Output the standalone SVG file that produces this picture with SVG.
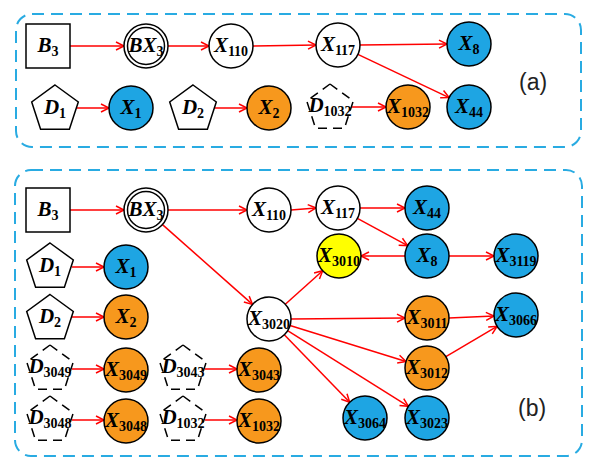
<svg xmlns="http://www.w3.org/2000/svg" xmlns:xlink="http://www.w3.org/1999/xlink" width="592" height="467" viewBox="0 0 592 467">
<style>
.panel{fill:none;stroke:#29abe2;stroke-width:2;stroke-dasharray:12 7}
.n{stroke:#000;stroke-width:1.5}
.w{fill:#fff}
.b{fill:#1ea5e3}
.o{fill:#f7981d}
.y{fill:#ffff00}
.sq{fill:#fff;stroke:#000;stroke-width:1.5}
.pent{fill:#fff;stroke:#000;stroke-width:1.5}
.dpent{fill:#fff;stroke:#000;stroke-width:1.5;stroke-dasharray:9 6}
.t{font-family:"Liberation Serif",serif;font-weight:bold;text-anchor:middle;fill:#000}
.m{font-style:italic;font-size:21px}
.s{font-size:14px}
.lab{font-family:"Liberation Sans",Arial,sans-serif;font-size:23px;fill:#222}
.e{fill:none;stroke:#f00;stroke-width:1.5;marker-end:url(#arr)}
</style>
<defs>
<marker id="arr" markerUnits="userSpaceOnUse" markerWidth="12" markerHeight="12" refX="9" refY="5" orient="auto" viewBox="0 0 12 10">
<path d="M1,1 L9,5 L1,9" fill="none" stroke="#f00" stroke-width="1.5"/>
</marker>
<polygon id="pent" points="0,-24.5 23.3,-7.57 14.4,19.82 -14.4,19.82 -23.3,-7.57"/>
</defs>

<rect class="panel" x="16" y="14" width="565" height="133" rx="16"/>
<rect class="panel" x="15" y="170" width="567" height="286" rx="16"/>
<text class="lab" x="519" y="90">(a)</text>
<text class="lab" x="518" y="416">(b)</text>

<g id="connectors">
<line class="e" x1="70" y1="46" x2="124" y2="46"/>
<line class="e" x1="168" y1="46" x2="209" y2="46"/>
<line class="e" x1="253" y1="46" x2="316" y2="45"/>
<line class="e" x1="360" y1="45" x2="447" y2="44"/>
<line class="e" x1="357.9" y1="54.4" x2="449.1" y2="97.6"/>
<line class="e" x1="77" y1="108" x2="109" y2="108"/>
<line class="e" x1="215" y1="108" x2="247" y2="108"/>
<line class="e" x1="352" y1="107" x2="386" y2="107"/>

<line class="e" x1="70" y1="210" x2="124" y2="210"/>
<line class="e" x1="168" y1="210" x2="247" y2="210"/>
<line class="e" x1="291" y1="210" x2="316" y2="208"/>
<line class="e" x1="360" y1="208" x2="405" y2="208"/>
<line class="e" x1="357.4" y1="218.4" x2="407.6" y2="245.6"/>
<line class="e" x1="405" y1="256" x2="361" y2="256"/>
<line class="e" x1="449" y1="256" x2="494" y2="256"/>
<line class="e" x1="162.5" y1="224.6" x2="252.5" y2="304.4"/>
<line class="e" x1="285.3" y1="304.3" x2="322.7" y2="270.7"/>
<line class="e" x1="291" y1="319" x2="405" y2="318"/>
<line class="e" x1="290" y1="325.5" x2="406" y2="361.5"/>
<line class="e" x1="284.3" y1="334.8" x2="349.7" y2="402.2"/>
<line class="e" x1="287.6" y1="330.7" x2="408.4" y2="406.3"/>
<line class="e" x1="449" y1="318" x2="494" y2="316"/>
<line class="e" x1="445.9" y1="356.7" x2="497.1" y2="326.3"/>
<line class="e" x1="72" y1="267" x2="104" y2="267"/>
<line class="e" x1="72" y1="317" x2="104" y2="317"/>
<line class="e" x1="72" y1="369" x2="104" y2="369"/>
<line class="e" x1="205" y1="369" x2="237" y2="369"/>
<line class="e" x1="72" y1="420" x2="104" y2="420"/>
<line class="e" x1="205" y1="420" x2="237" y2="420"/>
</g>

<!-- panel a -->
<g id="a_B3"><rect class="sq" x="26" y="24" width="44" height="44"/><text class="t" x="48" y="52"><tspan class="m">B</tspan><tspan class="s" dy="4">3</tspan></text></g>
<g id="a_BX3"><circle class="n w" cx="146" cy="46" r="22"/><circle class="n" fill="none" cx="146" cy="46" r="18.5"/><text class="t" x="146" y="52"><tspan class="m">BX</tspan><tspan class="s" dy="4">3</tspan></text></g>
<g id="a_X110"><circle class="n w" cx="231" cy="46" r="22"/><text class="t" x="231" y="52"><tspan class="m">X</tspan><tspan class="s" dy="4">110</tspan></text></g>
<g id="a_X117"><circle class="n w" cx="338" cy="45" r="22"/><text class="t" x="338" y="51"><tspan class="m">X</tspan><tspan class="s" dy="4">117</tspan></text></g>
<g id="a_X8"><circle class="n b" cx="469" cy="44" r="22"/><text class="t" x="469" y="50"><tspan class="m">X</tspan><tspan class="s" dy="4">8</tspan></text></g>
<g id="a_X44"><circle class="n b" cx="469" cy="107" r="22"/><text class="t" x="469" y="113"><tspan class="m">X</tspan><tspan class="s" dy="4">44</tspan></text></g>
<g id="a_D1"><use xlink:href="#pent" class="pent" x="55" y="109.5"/><text class="t" x="55" y="114"><tspan class="m">D</tspan><tspan class="s" dy="4">1</tspan></text></g>
<g id="a_X1"><circle class="n b" cx="131" cy="108" r="22"/><text class="t" x="131" y="114"><tspan class="m">X</tspan><tspan class="s" dy="4">1</tspan></text></g>
<g id="a_D2"><use xlink:href="#pent" class="pent" x="193" y="109.5"/><text class="t" x="193" y="114"><tspan class="m">D</tspan><tspan class="s" dy="4">2</tspan></text></g>
<g id="a_X2"><circle class="n o" cx="269" cy="108" r="22"/><text class="t" x="269" y="114"><tspan class="m">X</tspan><tspan class="s" dy="4">2</tspan></text></g>
<g id="a_D1032"><use xlink:href="#pent" class="dpent" x="330" y="108.5"/><text class="t" x="330" y="112"><tspan class="m">D</tspan><tspan class="s" dy="4">1032</tspan></text></g>
<g id="a_X1032"><circle class="n o" cx="408" cy="107" r="22"/><text class="t" x="408" y="113"><tspan class="m">X</tspan><tspan class="s" dy="4">1032</tspan></text></g>

<!-- panel b -->
<g id="b_B3"><rect class="sq" x="26" y="188" width="44" height="44"/><text class="t" x="48" y="216"><tspan class="m">B</tspan><tspan class="s" dy="4">3</tspan></text></g>
<g id="b_BX3"><circle class="n w" cx="146" cy="210" r="22"/><circle class="n" fill="none" cx="146" cy="210" r="18.5"/><text class="t" x="146" y="216"><tspan class="m">BX</tspan><tspan class="s" dy="4">3</tspan></text></g>
<g id="b_X110"><circle class="n w" cx="269" cy="210" r="22"/><text class="t" x="269" y="216"><tspan class="m">X</tspan><tspan class="s" dy="4">110</tspan></text></g>
<g id="b_X117"><circle class="n w" cx="338" cy="208" r="22"/><text class="t" x="338" y="214"><tspan class="m">X</tspan><tspan class="s" dy="4">117</tspan></text></g>
<g id="b_X44"><circle class="n b" cx="427" cy="208" r="22"/><text class="t" x="427" y="214"><tspan class="m">X</tspan><tspan class="s" dy="4">44</tspan></text></g>
<g id="b_X8"><circle class="n b" cx="427" cy="256" r="22"/><text class="t" x="427" y="262"><tspan class="m">X</tspan><tspan class="s" dy="4">8</tspan></text></g>
<g id="b_X3010"><circle class="n y" cx="339" cy="256" r="22"/><text class="t" x="339" y="262"><tspan class="m">X</tspan><tspan class="s" dy="4">3010</tspan></text></g>
<g id="b_X3119"><circle class="n b" cx="516" cy="256" r="22"/><text class="t" x="516" y="262"><tspan class="m">X</tspan><tspan class="s" dy="4">3119</tspan></text></g>
<g id="b_D1"><use xlink:href="#pent" class="pent" x="50" y="267.5"/><text class="t" x="50" y="272"><tspan class="m">D</tspan><tspan class="s" dy="4">1</tspan></text></g>
<g id="b_X1"><circle class="n b" cx="126" cy="267" r="22"/><text class="t" x="126" y="273"><tspan class="m">X</tspan><tspan class="s" dy="4">1</tspan></text></g>
<g id="b_D2"><use xlink:href="#pent" class="pent" x="50" y="319"/><text class="t" x="50" y="323"><tspan class="m">D</tspan><tspan class="s" dy="4">2</tspan></text></g>
<g id="b_X2"><circle class="n o" cx="126" cy="317" r="22"/><text class="t" x="126" y="323"><tspan class="m">X</tspan><tspan class="s" dy="4">2</tspan></text></g>
<g id="b_X3020"><circle class="n w" cx="269" cy="319" r="22"/><text class="t" x="269" y="325"><tspan class="m">X</tspan><tspan class="s" dy="4">3020</tspan></text></g>
<g id="b_D3049"><use xlink:href="#pent" class="dpent" x="50" y="369.5"/><text class="t" x="50" y="373"><tspan class="m">D</tspan><tspan class="s" dy="4">3049</tspan></text></g>
<g id="b_X3049"><circle class="n o" cx="126" cy="370" r="22"/><text class="t" x="126" y="376"><tspan class="m">X</tspan><tspan class="s" dy="4">3049</tspan></text></g>
<g id="b_D3043"><use xlink:href="#pent" class="dpent" x="183" y="369.5"/><text class="t" x="183" y="373"><tspan class="m">D</tspan><tspan class="s" dy="4">3043</tspan></text></g>
<g id="b_X3043"><circle class="n o" cx="259" cy="370" r="22"/><text class="t" x="259" y="376"><tspan class="m">X</tspan><tspan class="s" dy="4">3043</tspan></text></g>
<g id="b_D3048"><use xlink:href="#pent" class="dpent" x="50" y="420.5"/><text class="t" x="50" y="424"><tspan class="m">D</tspan><tspan class="s" dy="4">3048</tspan></text></g>
<g id="b_X3048"><circle class="n o" cx="126" cy="421" r="22"/><text class="t" x="126" y="427"><tspan class="m">X</tspan><tspan class="s" dy="4">3048</tspan></text></g>
<g id="b_D1032"><use xlink:href="#pent" class="dpent" x="183" y="420.5"/><text class="t" x="183" y="424"><tspan class="m">D</tspan><tspan class="s" dy="4">1032</tspan></text></g>
<g id="b_X1032"><circle class="n o" cx="259" cy="421" r="22"/><text class="t" x="259" y="427"><tspan class="m">X</tspan><tspan class="s" dy="4">1032</tspan></text></g>
<g id="b_X3011"><circle class="n o" cx="427" cy="318" r="22"/><text class="t" x="427" y="324"><tspan class="m">X</tspan><tspan class="s" dy="4">3011</tspan></text></g>
<g id="b_X3066"><circle class="n b" cx="516" cy="315" r="22"/><text class="t" x="516" y="321"><tspan class="m">X</tspan><tspan class="s" dy="4">3066</tspan></text></g>
<g id="b_X3012"><circle class="n o" cx="427" cy="368" r="22"/><text class="t" x="427" y="374"><tspan class="m">X</tspan><tspan class="s" dy="4">3012</tspan></text></g>
<g id="b_X3064"><circle class="n b" cx="365" cy="418" r="22"/><text class="t" x="365" y="424"><tspan class="m">X</tspan><tspan class="s" dy="4">3064</tspan></text></g>
<g id="b_X3023"><circle class="n b" cx="427" cy="418" r="22"/><text class="t" x="427" y="424"><tspan class="m">X</tspan><tspan class="s" dy="4">3023</tspan></text></g>
</svg>
